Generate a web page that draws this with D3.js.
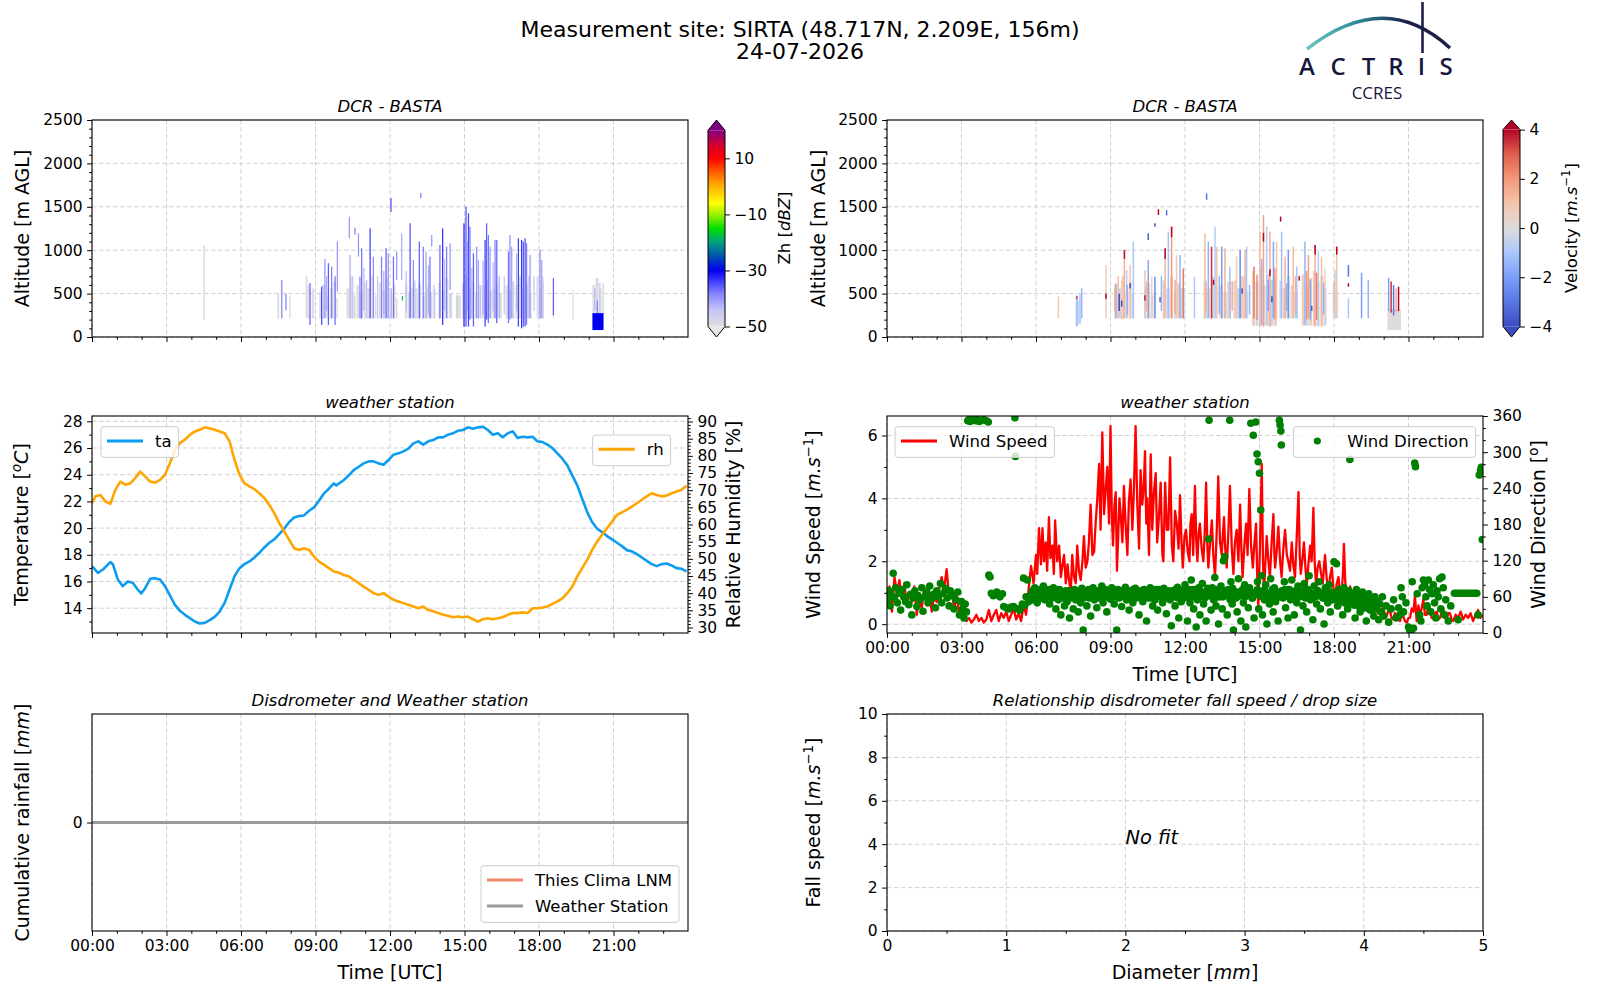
<!DOCTYPE html>
<meta charset="utf-8">
<script src="https://d3js.org/d3.v7.min.js"></script>
<style>
  body { margin: 0; background: #fff; font-family: "DejaVu Sans", sans-serif; }
  .axis text { font-family: "DejaVu Sans", sans-serif; font-size: 15.5px; fill: #000; }
  .axis line { stroke: #000; stroke-width: 1; }
  .grid line { stroke: #d0d0d0; stroke-width: 1; stroke-dasharray: 4.5,2.5; }
  .frame { fill: none; stroke: #000; stroke-width: 1.1; }
  .sub { font-size: 16.5px; font-style: italic; text-anchor: middle; }
  .lab { font-size: 19px; text-anchor: middle; }
  .leg text { font-size: 16.5px; }
</style>
<svg id="chart" width="1600" height="1000"></svg>
<script>
// ---------- data ----------
// radar reflectivity (Zh, dBZ): blocks [t0, t1, base, top, dBZ] and streaks [t, base, top, dBZ]
var zhBlocks = [
  [7.46,7.54,215,500,-50],[7.6,7.68,215,650,-50],[7.94,8.0,215,480,-50],
  [8.6,8.68,215,700,-50],[8.68,8.75,215,600,-49],[8.85,8.95,215,560,-50],
  [9.15,9.25,215,520,-50],[9.28,9.4,215,600,-48],[9.43,9.55,215,470,-50],[9.58,9.7,215,560,-49],[9.72,9.82,215,640,-50],[9.84,9.9,215,450,-50],
  [10.25,10.35,215,560,-50],[10.38,10.5,215,700,-49],[10.52,10.62,215,480,-50],[10.65,10.75,215,600,-50],[10.78,10.9,215,520,-48],
  [10.95,11.05,215,640,-50],[11.08,11.2,215,560,-50],[11.25,11.35,215,700,-49],[11.38,11.45,215,480,-50],
  [11.55,11.68,215,620,-50],[11.7,11.8,215,540,-48],[11.83,11.95,215,680,-50],[11.98,12.1,215,500,-50],[12.12,12.22,215,600,-49],[12.24,12.3,215,450,-50],
  [12.6,12.7,215,600,-50],[12.72,12.82,215,520,-49],[12.85,12.95,215,560,-50],
  [13.0,13.12,215,560,-50],[13.15,13.25,215,620,-48],[13.3,13.42,215,480,-50],[13.45,13.55,215,580,-50],[13.6,13.7,215,520,-49],[13.72,13.8,215,600,-50],
  [13.95,14.05,215,620,-50],[14.08,14.2,215,540,-49],[14.22,14.35,215,680,-50],[14.38,14.5,215,500,-48],
  [14.65,14.85,215,480,-50],
  [14.9,15.0,215,620,-49],[15.02,15.12,215,700,-50],[15.15,15.25,215,560,-48],[15.28,15.4,215,640,-50],[15.42,15.52,215,520,-50],[15.55,15.65,215,600,-49],
  [15.7,15.8,215,600,-50],[15.83,15.95,215,660,-48],[15.98,16.1,215,540,-50],
  [16.12,16.22,215,560,-50],[16.25,16.35,215,620,-49],[16.38,16.5,215,500,-50],
  [16.65,16.75,215,600,-50],[16.78,16.88,215,540,-48],[16.9,17.0,215,640,-50],
  [17.05,17.15,215,600,-50],[17.18,17.28,215,700,-49],[17.3,17.42,215,560,-50],[17.45,17.55,215,620,-48],[17.58,17.7,215,520,-50],
  [17.9,18.0,215,700,-50],[18.03,18.12,215,560,-49],[18.14,18.2,215,640,-50],
  [18.55,18.6,215,450,-50],[19.35,19.4,196,540,-50],
  [20.15,20.25,270,600,-50],[20.28,20.4,270,680,-49],[20.42,20.52,270,560,-50],[20.55,20.62,270,620,-50],
  [20.15,20.6,80,275,-30]
];
var zhStreaks = [
  [4.51, 196, 1060, -47], [7.64, 215, 657, -40], [7.81, 310, 500, -38], [8.78, 140, 620, -36],
  [9.25, 140, 580, -34], [9.38, 215, 900, -40], [9.52, 140, 850, -36], [9.65, 215, 810, -38],
  [9.79, 140, 700, -37], [9.88, 520, 1100, -40], [10.36, 1137, 1387, -40], [10.39, 215, 945, -42],
  [10.59, 1180, 1260, -38], [10.73, 926, 1195, -40], [10.79, 215, 695, -38], [10.86, 215, 1022, -37],
  [11.06, 215, 657, -44], [11.2, 215, 1252, -34], [11.33, 215, 926, -39], [11.66, 215, 926, -38],
  [11.84, 215, 1022, -36], [11.93, 215, 965, -40], [12.04, 1440, 1600, -35], [12.14, 215, 926, -37],
  [12.27, 657, 984, -40], [12.47, 657, 1195, -42], [12.5, 420, 470, -18], [12.81, 215, 1310, -35],
  [12.94, 215, 887, -39], [13.18, 215, 1099, -36], [13.24, 1600, 1660, -38], [13.34, 215, 1041, -38],
  [13.45, 215, 984, -41], [13.61, 215, 926, -37], [13.68, 1041, 1175, -40], [14.01, 215, 1060, -37],
  [14.12, 138, 1252, -33], [14.28, 215, 1041, -38], [14.42, 542, 1080, -40], [14.98, 120, 1310, -32],
  [15.06, 120, 1502, -35], [15.16, 120, 1425, -34], [15.22, 200, 1271, -37], [15.36, 120, 965, -36],
  [15.49, 215, 1041, -39], [15.56, 215, 887, -41], [15.83, 120, 1118, -34], [15.89, 200, 1310, -36],
  [15.96, 160, 1175, -37], [16.03, 215, 1041, -40], [16.23, 215, 1118, -38], [16.3, 160, 1118, -36],
  [16.77, 160, 984, -37], [16.83, 200, 1175, -39], [16.9, 215, 1041, -41], [17.17, 120, 1137, -34],
  [17.3, 100, 1118, -33], [17.37, 120, 1099, -36], [17.44, 120, 1137, -35], [17.5, 140, 1080, -38],
  [17.64, 215, 945, -40], [18.04, 215, 1003, -39], [18.11, 215, 887, -41], [18.58, 250, 680, -36],
  [9.3, 215, 600, -44], [10.5, 215, 700, -44], [11.5, 215, 700, -44], [12.05, 215, 560, -42],
  [13.0, 215, 650, -44], [13.8, 215, 560, -44], [14.7, 215, 480, -46], [15.3, 215, 800, -42],
  [15.65, 215, 600, -44], [16.4, 215, 700, -42], [16.95, 215, 640, -44], [17.6, 215, 700, -42],
  [18.15, 215, 700, -44], [20.25, 300, 560, -42], [20.45, 280, 620, -44], [20.35, 275, 420, -38],
  [9.45, 300, 700, -42], [10.95, 300, 800, -43], [11.75, 260, 760, -42], [12.65, 300, 760, -43],
  [13.55, 260, 820, -42], [14.2, 300, 900, -43], [15.12, 300, 1100, -41], [15.75, 260, 880, -42],
  [16.15, 300, 860, -43], [16.6, 260, 700, -44], [17.1, 300, 960, -42], [17.8, 300, 700, -44]
];
// Doppler velocity (m/s): blocks and streaks in the same layout
var velBlocks = [
  [7.6,7.7,130,450,-0.8],[7.7,7.8,150,420,-0.4],
  [9.15,9.28,215,620,0.5],[9.3,9.42,215,560,-0.4],[9.45,9.58,215,700,0.7],[9.6,9.72,215,520,0.2],[9.75,9.85,215,640,0.6],[9.86,9.95,215,500,-0.5],
  [10.35,10.45,215,560,-0.5],[10.48,10.6,215,620,0.4],[10.62,10.72,215,480,-0.3],[10.74,10.8,215,520,0.6],
  [11.1,11.22,215,650,0.7],[11.25,11.38,215,560,-0.4],[11.4,11.52,215,700,0.5],[11.55,11.65,215,520,0.2],[11.68,11.8,215,620,0.6],[11.82,12.0,215,560,-0.3],
  [12.75,12.88,215,650,-0.4],[12.9,13.02,215,560,0.5],[13.05,13.18,215,700,-0.2],[13.2,13.3,215,600,0.6],
  [13.4,13.52,215,600,0.7],[13.55,13.68,215,520,-0.3],[13.7,13.85,215,640,0.5],
  [13.95,14.08,215,650,0.4],[14.1,14.22,215,560,-0.5],[14.25,14.4,215,700,0.6],[14.42,14.55,215,520,0.2],
  [14.7,14.82,130,760,0.6],[14.84,14.96,130,640,-0.3],[14.98,15.1,130,800,0.7],[15.12,15.25,130,600,0.2],[15.28,15.4,130,720,0.5],[15.42,15.55,130,660,-0.4],[15.57,15.7,130,700,0.6],
  [15.8,15.92,215,650,-0.4],[15.95,16.08,215,560,0.5],[16.1,16.22,215,700,-0.2],[16.25,16.38,215,600,0.4],[16.4,16.55,215,520,-0.5],
  [16.7,16.82,130,720,0.7],[16.85,16.98,130,600,-0.3],[17.0,17.12,130,680,0.5],[17.15,17.28,130,760,0.6],[17.3,17.42,130,640,0.2],[17.45,17.58,130,700,0.5],[17.6,17.7,130,560,-0.4],
  [17.95,18.05,215,600,0.3],[18.07,18.15,215,520,-0.3],
  [20.15,20.7,80,320,0.05]
];
var velStreaks = [
  [6.9, 215, 465, 0.8], [7.64, 120, 480, -1.2], [7.64, 440, 470, 3.5], [7.77, 160, 500, -0.8],
  [7.84, 215, 560, -1.5], [8.82, 215, 830, 0.6], [8.82, 440, 500, 4], [9.22, 215, 600, -1.5],
  [9.31, 215, 700, 1.2], [9.45, 200, 650, 0.8], [9.45, 350, 420, -4], [9.56, 215, 1003, 1.5],
  [9.56, 900, 1003, 3.8], [9.65, 215, 770, -0.8], [9.79, 215, 830, 1.0], [9.79, 560, 620, -4],
  [9.92, 215, 1099, -1.0], [10.39, 215, 772, 1.0], [10.39, 420, 480, 4], [10.52, 215, 887, -1.8],
  [10.52, 1118, 1195, -3.5], [10.66, 215, 695, 0.5], [10.79, 215, 695, -2.5], [10.79, 1271, 1310, -4],
  [10.93, 1406, 1471, 4], [11.2, 215, 1022, 1.3], [11.2, 900, 1022, 4], [11.26, 1400, 1463, -3],
  [11.33, 215, 1214, -1.2], [11.46, 215, 1271, 2.0], [11.46, 1150, 1271, 4], [11.66, 215, 945, 0.8],
  [11.8, 215, 945, -1.5], [11.93, 215, 791, 2.5], [12.38, 215, 695, -1.0], [12.8, 215, 1195, 1.2],
  [12.87, 1580, 1655, -3], [12.94, 215, 1099, -1.5], [13.07, 215, 1041, 3.5], [13.21, 215, 1271, -0.8],
  [13.28, 215, 1041, 1.0], [13.48, 215, 1041, -2.0], [13.61, 215, 1022, 1.5], [13.81, 215, 811, -1.2],
  [14.08, 215, 926, 0.7], [14.22, 215, 1003, -2.5], [14.42, 215, 1003, 1.5], [14.48, 215, 1041, -1.0],
  [14.78, 215, 811, 2.5], [15.02, 120, 1214, 1.2], [15.09, 140, 900, -1.5], [15.16, 120, 1406, 1.8],
  [15.16, 1100, 1200, 4], [15.29, 140, 1271, -0.8], [15.42, 119, 1214, 1.5], [15.42, 700, 780, 4],
  [15.56, 215, 1099, -1.8], [15.69, 215, 1099, 1.0], [15.85, 1329, 1387, 4], [15.89, 215, 1214, -1.2],
  [16.03, 215, 926, 1.5], [16.16, 215, 1003, -2.2], [16.36, 215, 1041, 1.2], [16.5, 215, 811, -1.0],
  [16.83, 140, 1099, -1.5], [16.97, 215, 945, 1.8], [17.24, 119, 1060, 1.5], [17.24, 950, 1060, 4],
  [17.37, 119, 984, -0.8], [17.5, 119, 926, 1.2], [17.64, 215, 791, 0.5], [18.04, 215, 772, -0.7],
  [18.11, 215, 1041, 1.0], [18.11, 950, 1041, 4], [18.58, 215, 446, -1.0], [18.58, 695, 830, -3],
  [18.58, 580, 620, 4], [19.11, 215, 740, -2.0], [19.38, 215, 657, -1.5], [20.2, 300, 680, -2],
  [20.3, 280, 640, 3.5], [20.4, 250, 600, -3], [20.5, 280, 560, 1.5], [20.6, 300, 580, 4],
  [9.35, 300, 500, -4], [11.0, 400, 460, -4], [13.15, 600, 660, 4], [14.3, 500, 560, -4],
  [15.5, 400, 470, -4], [16.6, 650, 700, 4], [17.1, 300, 360, -4],
  [9.18, 300, 560, 1.6], [9.68, 260, 600, -1.6], [10.45, 300, 640, 1.4], [11.05, 300, 700, -1.4],
  [11.6, 260, 660, 1.6], [12.85, 300, 620, 1.4], [13.38, 260, 700, -1.5], [13.9, 300, 640, 1.6],
  [14.6, 260, 600, -1.4], [14.9, 200, 720, 2.2], [15.35, 300, 660, -2.0], [15.62, 200, 800, 2.0],
  [16.1, 300, 620, -1.6], [16.45, 260, 700, 1.5], [16.9, 200, 760, 2.0], [17.05, 200, 660, -1.8],
  [17.3, 200, 740, 2.4], [17.58, 260, 620, -1.5], [18.0, 300, 640, 1.2]
];

// weather station, temperature [h, degC] and relative humidity [h, %]
var taSeries = [
  [0,17.15],[0.24,16.65],[0.44,16.9],[0.74,17.45],[0.84,17.3],[1.04,16.15],[1.24,15.65],[1.44,16.0],
  [1.64,15.9],[1.84,15.4],[1.98,15.1],[2.14,15.5],[2.34,16.2],[2.54,16.25],[2.74,16.15],[2.94,15.65],
  [3.14,14.95],[3.34,14.25],[3.54,13.8],[3.74,13.5],[3.94,13.25],[4.14,13.0],[4.34,12.85],[4.54,12.9],
  [4.74,13.1],[4.94,13.35],[5.14,13.75],[5.34,14.4],[5.54,15.4],[5.74,16.4],[5.94,17.0],[6.14,17.3],
  [6.34,17.5],[6.54,17.8],[6.74,18.15],[6.94,18.55],[7.14,18.9],[7.34,19.15],[7.54,19.55],[7.74,19.95],
  [7.94,20.45],[8.14,20.8],[8.34,20.9],[8.54,20.95],[8.74,21.3],[8.94,21.55],[9.14,22.05],[9.34,22.6],
  [9.54,22.95],[9.74,23.35],[9.84,23.2],[10.14,23.6],[10.34,23.95],[10.54,24.35],[10.74,24.6],[10.94,24.85],
  [11.14,25.0],[11.34,25.0],[11.54,24.85],[11.74,24.75],[11.94,25.1],[12.14,25.5],[12.34,25.6],[12.54,25.75],
  [12.74,25.95],[12.94,26.35],[13.14,26.5],[13.34,26.25],[13.54,26.5],[13.74,26.6],[13.94,26.8],[14.14,26.8],
  [14.34,27.0],[14.54,27.1],[14.74,27.3],[14.94,27.35],[15.14,27.55],[15.34,27.45],[15.54,27.55],[15.74,27.6],
  [15.94,27.35],[16.14,27.0],[16.34,27.1],[16.54,26.8],[16.74,27.1],[16.94,27.25],[17.14,26.75],[17.34,26.85],
  [17.54,26.8],[17.74,26.85],[17.94,26.5],[18.14,26.45],[18.34,26.25],[18.54,26.0],[18.74,25.6],[18.94,25.2],
  [19.14,24.7],[19.34,23.95],[19.54,23.2],[19.74,22.2],[19.94,21.2],[20.14,20.45],[20.34,19.95],[20.54,19.7],
  [20.74,19.4],[20.94,19.15],[21.14,18.9],[21.34,18.65],[21.54,18.35],[21.74,18.25],[21.94,18.05],[22.14,17.8],
  [22.34,17.55],[22.54,17.3],[22.74,17.15],[22.94,17.3],[23.14,17.35],[23.34,17.2],[23.54,17.0],[23.74,16.95],
  [23.94,16.75]
];
var rhSeries = [
  [0,66.2],[0.14,68.2],[0.34,68.6],[0.54,66.7],[0.74,66.0],[0.94,70.1],[1.14,72.5],[1.34,71.6],[1.54,72.0],
  [1.74,73.5],[1.94,75.4],[2.14,74.0],[2.34,72.5],[2.54,72.2],[2.74,73.0],[2.94,74.5],[3.14,77.9],[3.34,81.7],
  [3.54,83.7],[3.74,84.7],[3.94,86.1],[4.14,87.1],[4.34,87.6],[4.54,88.3],[4.74,88.0],[4.94,87.6],[5.14,87.1],
  [5.34,86.6],[5.54,84.2],[5.74,78.8],[5.94,74.5],[6.14,72.0],[6.34,71.1],[6.54,70.3],[6.74,69.1],[6.94,67.7],
  [7.14,65.7],[7.34,63.3],[7.54,60.4],[7.74,58.0],[7.94,55.5],[8.14,53.1],[8.34,52.6],[8.54,53.1],[8.74,52.6],
  [8.94,50.7],[9.14,49.2],[9.34,48.3],[9.54,47.3],[9.74,46.3],[9.94,46.0],[10.14,45.3],[10.34,44.9],[10.54,43.9],
  [10.74,42.9],[10.94,41.9],[11.14,41.0],[11.34,40.0],[11.54,39.5],[11.74,40.0],[11.94,39.0],[12.14,38.1],
  [12.34,37.6],[12.54,37.1],[12.74,36.6],[12.94,36.1],[13.14,35.6],[13.34,36.1],[13.54,35.1],[13.74,34.7],
  [13.94,34.2],[14.14,33.7],[14.34,33.4],[14.54,33.0],[14.74,33.2],[14.94,33.0],[15.14,33.2],[15.34,32.4],
  [15.54,31.7],[15.74,32.4],[15.94,32.7],[16.14,32.4],[16.34,32.7],[16.54,33.0],[16.74,33.7],[16.94,34.2],
  [17.14,34.2],[17.34,34.4],[17.54,34.2],[17.74,35.6],[17.94,35.6],[18.14,35.8],[18.34,36.1],[18.54,36.9],
  [18.74,37.6],[18.94,38.5],[19.14,40.0],[19.34,41.9],[19.54,44.9],[19.74,47.3],[19.94,49.7],[20.14,52.6],
  [20.34,55.0],[20.54,57.0],[20.74,58.9],[20.94,60.8],[21.14,62.8],[21.34,63.5],[21.54,64.3],[21.74,65.2],
  [21.94,66.2],[22.14,67.2],[22.34,68.2],[22.54,69.1],[22.74,68.6],[22.94,68.2],[23.14,68.4],[23.34,69.1],
  [23.54,69.6],[23.74,70.1],[23.94,71.3]
];

// wind speed [h, m/s]
var wsSeries = [
  [0,0.8],[0.1,1.2],[0.2,0.4],[0.3,1.5],[0.4,1.0],[0.5,1.4],[0.6,0.8],[0.7,1.3],[0.8,0.6],[0.9,1.0],
  [1.0,0.7],[1.1,1.2],[1.2,0.3],[1.3,0.9],[1.4,0.5],[1.5,1.2],[1.6,0.6],[1.7,1.0],[1.8,0.4],[1.9,0.9],
  [2.0,0.7],[2.1,1.1],[2.2,1.5],[2.3,1.1],[2.4,1.75],[2.5,0.9],[2.6,1.1],[2.7,0.5],[2.8,0.9],[2.9,0.4],
  [3.0,0.6],[3.1,0.2],[3.2,0.1],[3.3,0.2],[3.4,0.05],[3.5,0.15],[3.6,0.3],[3.7,0.1],[3.8,0.2],[3.9,0.05],
  [4.0,0.15],[4.1,0.45],[4.2,0.1],[4.3,0.3],[4.4,0.45],[4.5,0.1],[4.6,0.35],[4.7,0.2],[4.8,0.4],[4.9,0.1],
  [5.0,0.3],[5.1,0.5],[5.2,0.15],[5.3,0.35],[5.4,0.1],[5.5,0.6],[5.6,0.3],[5.7,1.1],[5.8,1.85],[5.9,1.3],
  [6.0,2.2],[6.05,1.6],[6.12,3.05],[6.2,1.9],[6.26,3.05],[6.32,2.0],[6.39,2.6],[6.45,1.7],[6.52,3.4],[6.58,2.1],
  [6.66,2.5],[6.72,1.6],[6.77,3.3],[6.85,2.0],[6.93,2.5],[7.0,1.5],[7.07,1.9],[7.13,2.2],[7.2,1.3],[7.27,1.9],
  [7.33,1.4],[7.4,1.0],[7.46,2.2],[7.53,1.5],[7.6,1.3],[7.66,2.5],[7.73,1.7],[7.8,1.4],[7.87,2.0],[7.93,2.8],
  [8.0,1.8],[8.07,2.0],[8.13,2.6],[8.2,3.8],[8.27,2.2],[8.34,2.3],[8.4,3.2],[8.47,4.0],[8.54,5.1],[8.6,3.0],
  [8.67,6.1],[8.74,3.5],[8.8,4.2],[8.87,5.0],[8.94,3.2],[9.0,6.3],[9.05,3.6],[9.1,2.5],[9.16,3.8],[9.21,4.2],
  [9.26,1.7],[9.31,2.8],[9.36,4.0],[9.41,3.5],[9.48,2.6],[9.54,4.4],[9.6,3.3],[9.68,2.2],[9.74,3.9],[9.81,4.6],
  [9.88,3.0],[9.94,4.2],[10.01,6.3],[10.08,3.8],[10.15,2.4],[10.21,4.9],[10.28,3.8],[10.34,4.4],[10.39,5.5],[10.44,3.2],
  [10.48,4.0],[10.55,2.2],[10.62,5.4],[10.68,3.0],[10.75,4.2],[10.82,4.8],[10.88,2.6],[10.95,3.4],[11.02,4.5],[11.09,2.2],
  [11.13,2.0],[11.2,4.5],[11.27,3.0],[11.33,3.0],[11.4,5.3],[11.47,2.5],[11.53,2.0],[11.6,3.6],[11.67,3.2],[11.74,2.4],
  [11.8,4.1],[11.86,2.6],[11.91,1.8],[11.98,2.8],[12.04,3.0],[12.11,2.3],[12.18,2.0],[12.22,3.2],[12.27,3.5],[12.33,2.2],
  [12.4,4.4],[12.45,2.7],[12.5,2.0],[12.55,2.9],[12.6,3.2],[12.67,2.4],[12.74,2.0],[12.8,3.0],[12.85,4.5],[12.9,2.5],
  [12.94,1.8],[13.01,2.6],[13.08,3.3],[13.14,2.2],[13.21,1.5],[13.28,3.0],[13.34,4.7],[13.41,2.6],[13.48,2.2],[13.52,2.8],
  [13.57,3.4],[13.62,2.4],[13.68,1.8],[13.75,3.0],[13.81,4.4],[13.88,2.5],[13.95,1.6],[14.01,2.6],[14.08,3.0],[14.15,2.0],
  [14.22,3.8],[14.27,2.4],[14.32,1.5],[14.39,2.5],[14.46,3.2],[14.52,2.2],[14.59,4.3],[14.66,2.5],[14.73,1.8],[14.8,2.6],
  [14.86,3.2],[14.91,1.5],[14.95,0.5],[15.02,2.5],[15.09,5.1],[15.14,2.0],[15.18,1.0],[15.24,2.0],[15.29,2.8],[15.36,2.0],
  [15.42,1.5],[15.49,2.6],[15.56,3.5],[15.6,2.2],[15.63,1.8],[15.7,2.4],[15.76,3.1],[15.83,2.0],[15.89,1.5],[15.96,2.4],
  [16.03,3.0],[16.1,2.2],[16.16,2.0],[16.23,1.7],[16.3,2.6],[16.36,1.9],[16.43,1.5],[16.5,2.8],[16.57,4.2],[16.62,2.2],
  [16.66,1.6],[16.72,2.0],[16.79,2.6],[16.85,1.8],[16.9,1.2],[16.97,1.9],[17.04,2.5],[17.1,2.0],[17.17,3.7],[17.22,2.0],
  [17.28,1.2],[17.34,1.8],[17.41,2.0],[17.48,1.6],[17.55,1.3],[17.6,1.9],[17.64,2.2],[17.7,1.5],[17.77,1.0],[17.84,1.5],
  [17.91,1.8],[17.97,1.2],[18.04,0.8],[18.11,1.3],[18.18,1.5],[18.24,1.0],[18.31,1.0],[18.36,1.6],[18.4,2.55],[18.45,1.4],
  [18.51,0.8],[18.58,1.0],[18.65,1.2],[18.72,0.9],[18.78,0.7],[18.85,1.0],[18.91,1.0],[18.98,0.7],[19.05,0.6],[19.12,0.9],
  [19.18,0.8],[19.25,0.6],[19.32,0.5],[19.38,0.8],[19.45,0.7],[19.52,0.4],[19.59,0.3],[19.65,0.55],[19.72,0.6],[19.78,0.35],
  [19.85,0.3],[19.92,0.5],[19.99,0.5],[20.05,0.3],[20.12,0.25],[20.19,0.45],[20.26,0.4],[20.32,0.2],[20.39,0.15],[20.45,0.35],
  [20.52,0.3],[20.59,0.15],[20.66,0.1],[20.72,0.3],[20.79,0.25],[20.86,0.1],[20.93,0.05],[21.0,0.2],[21.06,0.2],[21.13,0.5],
  [21.2,0.4],[21.26,0.9],[21.33,0.1],[21.4,0.6],[21.46,0.3],[21.53,0.5],[21.6,0.8],[21.66,0.3],[21.73,0.3],[21.8,0.6],
  [21.87,0.5],[21.93,0.2],[22.0,0.2],[22.07,0.35],[22.14,0.4],[22.2,0.15],[22.27,0.2],[22.34,0.4],[22.4,0.5],[22.47,0.2],
  [22.54,0.15],[22.6,0.35],[22.67,0.35],[22.74,0.15],[22.8,0.1],[22.9,0.3],[23.0,0.2],[23.1,0.4],[23.2,0.15],[23.3,0.3],
  [23.4,0.2],[23.5,0.35],[23.6,0.1],[23.7,0.3],[23.8,0.45],[23.9,0.2],[24.0,0.3]
];
// wind direction [h, deg]
var wdPoints = [
  [0.02,55],[0.08,70],[0.12,45],[0.18,62],[0.25,99],[0.3,58],[0.35,75],[0.42,50],[0.48,66],[0.55,38],
  [0.6,72],[0.68,60],[0.75,52],[0.8,80],[0.88,47],[0.95,64],[1.0,30],[1.05,58],[1.12,70],[1.2,44],
  [1.25,62],[1.32,55],[1.4,75],[1.45,36],[1.52,60],[1.6,68],[1.65,50],[1.72,78],[1.8,57],[1.88,64],
  [1.95,42],[2.0,70],[2.08,60],[2.15,82],[2.2,50],[2.28,66],[2.35,74],[2.42,58],[2.5,45],[2.55,70],
  [2.62,62],[2.7,40],[2.78,55],[2.85,68],[2.92,30],[3.0,52],[3.05,40],[3.1,25],[3.15,48],[3.2,35],
  [3.25,352],[3.3,354],[3.35,351],[3.42,353],[3.5,355],[3.58,352],[3.65,354],[3.72,351],[3.8,353],[3.9,354],
  [4.0,352],[4.08,350],[4.1,96],[4.15,93],[4.2,66],[4.28,62],[4.35,64],[4.42,68],[4.5,63],[4.55,60],
  [4.65,65],[4.7,44],[4.8,42],[4.9,40],[5.0,43],[5.1,44],[5.15,357],[5.17,293],[5.25,40],[5.35,38],
  [5.45,48],[5.5,91],[5.55,46],[5.6,60],[5.65,88],[5.7,52],
  [5.8,62],[5.85,70],[5.9,55],[5.95,75],[6.0,60],[6.05,50],[6.1,68],[6.15,72],[6.2,58],[6.25,64],
  [6.3,78],[6.35,55],[6.4,66],[6.45,60],[6.5,72],[6.55,48],[6.6,65],[6.65,58],[6.7,75],[6.75,62],
  [6.8,40],[6.85,68],[6.9,55],[6.95,72],[7.0,30],[7.05,60],[7.1,65],[7.15,45],[7.2,70],[7.25,52],
  [7.3,62],[7.35,25],[7.4,58],[7.45,68],[7.5,40],[7.55,72],[7.6,55],[7.65,60],[7.7,35],[7.75,66],
  [7.8,50],[7.85,74],[7.9,5],[7.95,60],[8.0,68],[8.05,45],[8.1,70],[8.15,58],[8.2,28],[8.25,64],
  [8.3,75],[8.35,55],[8.4,62],[8.45,42],[8.5,70],[8.55,58],[8.6,66],[8.65,78],[8.7,50],[8.75,63],
  [8.8,72],[8.85,35],[8.9,60],[8.95,68],[9.0,56],[9.05,75],[9.1,62],[9.15,48],[9.2,66],[9.25,5],
  [9.3,72],[9.35,58],[9.4,64],[9.45,44],[9.5,70],[9.55,60],[9.6,76],[9.65,55],[9.7,65],[9.75,38],
  [9.8,70],[9.85,62],[9.9,50],[9.95,68],[10.0,74],[10.05,58],[10.1,64],[10.15,30],[10.2,70],[10.25,60],
  [10.3,52],[10.35,72],[10.4,65],[10.45,20],[10.5,58],[10.55,68],[10.6,75],[10.65,62],[10.7,45],[10.75,70],
  [10.8,55],[10.85,64],[10.9,38],[10.95,72],[11.0,60],[11.05,66],[11.1,50],[11.15,74],[11.2,58],[11.25,32],
  [11.3,68],[11.35,62],[11.4,55],[11.45,12],[11.5,70],[11.55,60],[11.6,45],[11.65,66],[11.7,76],[11.75,25],
  [11.8,62],[11.85,52],[11.9,70],[11.95,58],[12.0,80],
  [12.05,60],[12.1,20],[12.15,72],[12.2,50],[12.25,88],[12.3,62],[12.35,40],[12.4,68],[12.45,10],[12.5,55],
  [12.55,75],[12.6,30],[12.65,64],[12.7,82],[12.75,48],[12.8,58],[12.85,20],[12.9,70],[12.95,156],[12.97,353],
  [13.0,62],[13.05,38],[13.1,75],[13.15,55],[13.2,92],[13.25,45],[13.3,66],[13.35,15],[13.4,60],[13.45,78],
  [13.5,40],[13.55,120],[13.6,127],[13.65,62],[13.7,30],[13.75,72],[13.8,353],[13.82,55],[13.85,85],[13.9,48],
  [13.95,5],[14.0,66],[14.05,58],[14.1,35],[14.15,90],[14.2,62],[14.25,20],[14.3,70],[14.35,50],[14.4,80],
  [14.45,10],[14.5,64],[14.55,42],[14.6,75],[14.65,348],[14.7,58],[14.75,328],[14.78,25],[14.85,350],[14.88,68],
  [14.9,297],[14.92,85],[14.95,284],[14.97,40],[15.0,265],[15.02,62],[15.05,204],[15.08,95],[15.12,30],[15.15,70],
  [15.2,55],[15.25,80],[15.3,15],[15.35,65],[15.4,48],[15.45,90],[15.5,60],[15.55,35],[15.6,75],[15.65,52],
  [15.7,66],[15.75,20],[15.8,353],[15.83,345],[15.86,335],[15.88,312],[15.9,70],[15.95,58],[16.0,85],[16.05,42],
  [16.1,65],[16.15,25],[16.2,72],[16.25,55],[16.3,88],[16.35,60],[16.4,30],[16.45,70],[16.5,50],[16.55,78],
  [16.6,62],[16.65,5],[16.7,68],[16.75,45],[16.8,82],[16.85,58],[16.9,35],[16.95,72],[17.0,95],[17.05,55],
  [17.1,65],[17.15,22],[17.2,78],[17.25,60],[17.3,48],[17.35,70],[17.4,85],[17.45,40],[17.5,66],[17.55,58],
  [17.6,15],[17.65,75],[17.7,62],[17.75,50],[17.8,80],[17.85,35],[17.9,68],[17.95,55],[18.0,118],[18.05,62],
  [18.1,115],[18.15,45],[18.2,72],[18.25,58],
  [18.3,66],[18.35,30],[18.4,75],[18.45,55],[18.5,62],[18.55,40],[18.6,70],[18.64,288],[18.7,50],[18.75,65],
  [18.8,58],[18.85,25],[18.9,72],[18.95,48],[19.0,62],[19.05,35],[19.1,55],[19.15,68],[19.2,42],[19.25,58],
  [19.3,20],[19.35,50],[19.4,65],[19.45,38],[19.5,55],[19.55,45],[19.6,28],[19.65,60],[19.7,40],[19.75,52],
  [19.8,22],[19.85,48],[19.9,35],[19.95,60],[20.0,28],[20.1,45],[20.2,18],[20.3,40],[20.4,55],[20.5,25],
  [20.6,42],[20.65,30],[20.7,75],[20.75,60],[20.8,35],[20.9,50],[21.0,10],[21.05,5],[21.1,2],[21.15,85],
  [21.2,8],[21.25,282],[21.28,276],[21.35,65],[21.45,30],[21.5,20],[21.55,75],[21.6,88],[21.65,80],[21.7,60],
  [21.75,45],[21.8,88],[21.85,72],[21.9,35],[21.95,65],[22.0,80],[22.05,50],[22.1,25],[22.15,70],[22.2,60],
  [22.25,90],[22.3,40],[22.35,93],[22.4,75],[22.45,30],[22.5,55],[22.6,20],[22.7,45],[22.85,66],[22.95,66],
  [23.0,22],[23.05,66],[23.15,66],[23.25,66],[23.35,66],[23.45,66],[23.55,66],[23.65,66],[23.75,66],[23.8,30],
  [23.85,262],[23.9,270],[23.93,275],[23.97,155],[24.0,265]
];
// extra wind direction readings inside the dense daytime band
var wdBand = [
  [6.02,66],[6.12,62],[6.22,70],[6.32,58],[6.42,64],[6.52,68],[6.62,60],[6.72,66],[6.82,72],[6.92,62],
  [7.02,68],[7.12,58],[7.22,64],[7.32,70],[7.42,62],[7.52,66],[7.62,60],[7.72,70],[7.82,64],[7.92,58],
  [8.02,66],[8.12,72],[8.22,62],[8.32,68],[8.42,60],[8.52,64],[8.62,70],[8.72,58],[8.82,66],[8.92,62],
  [9.02,68],[9.12,72],[9.22,60],[9.32,66],[9.42,62],[9.52,70],[9.62,64],[9.72,58],[9.82,66],[9.92,72],
  [10.02,62],[10.12,68],[10.22,60],[10.32,64],[10.42,70],[10.52,66],[10.62,58],[10.72,64],[10.82,72],[10.92,62],
  [11.02,68],[11.12,60],[11.22,66],[11.32,70],[11.42,62],[11.52,64],[11.62,72],[11.72,58],[11.82,66],[11.92,62],
  [12.02,70],[12.12,64],[12.22,58],[12.32,72],[12.42,66],[12.52,62],[12.62,70],[12.72,60],[12.82,66],[12.92,74],
  [13.02,62],[13.12,68],[13.22,58],[13.32,72],[13.42,64],[13.52,60],[13.62,70],[13.72,66],[13.82,62],[13.92,74],
  [14.02,58],[14.12,68],[14.22,62],[14.32,72],[14.42,60],[14.52,66],[14.62,70],[14.72,58],[14.82,64],[14.92,72],
  [15.02,66],[15.12,60],[15.22,70],[15.32,64],[15.42,58],[15.52,72],[15.62,62],[15.72,68],[15.82,60],[15.92,66],
  [16.02,72],[16.12,62],[16.22,68],[16.32,58],[16.42,64],[16.52,70],[16.62,60],[16.72,66],[16.82,72],[16.92,62],
  [17.02,68],[17.12,58],[17.22,64],[17.32,70],[17.42,62],[17.52,66],[17.62,58],[17.72,64],[17.82,60],[17.92,66],
  [18.02,56],[18.12,62],[18.22,52],[18.32,58],[18.42,50],[18.52,56],[18.62,48],[18.72,54],[18.82,46],[18.92,52],
  [19.02,44],[19.12,50],[19.22,42],[19.32,48],[19.42,40],[19.52,46]
];

// cumulative rainfall [mm]
var rainTimes = [0, 6, 12, 18, 24];
var rainThies = [0, 0, 0, 0, 0];
var rainStation = [0, 0, 0, 0, 0];

// tick values
var timeMajor = [0, 3, 6, 9, 12, 15, 18, 21];
var timeMinor = [1, 2, 4, 5, 7, 8, 10, 11, 13, 14, 16, 17, 19, 20, 22, 23];
var altTicks = [0, 500, 1000, 1500, 2000, 2500];
var tempTicks = [14, 16, 18, 20, 22, 24, 26, 28];
var rhTicks = [30, 35, 40, 45, 50, 55, 60, 65, 70, 75, 80, 85, 90];
var wsTicks = [0, 2, 4, 6];
var wdTicks = [0, 60, 120, 180, 240, 300, 360];
var zhCbTicks = [-50, -30, -10, 10];
var velCbTicks = [-4, -2, 0, 2, 4];
var diamTicks = [0, 1, 2, 3, 4, 5];
var fallTicks = [0, 2, 4, 6, 8, 10];

// colour maps
var zhColorStops = [[-50,"#dedede"],[-44,"#c4c4f8"],[-38,"#8080ff"],[-33,"#3030ff"],[-30,"#0000f0"],[-25,"#0050b0"],
  [-20,"#00a080"],[-15,"#00e000"],[-10,"#a0f000"],[-6,"#ffff00"],[0,"#ffb000"],[5,"#ff6000"],
  [10,"#ff0000"],[15,"#d00030"],[20,"#800080"]];
var velColorStops = [[-4,"#3b4cc0"],[-3,"#5977e3"],[-2,"#7b9ff9"],[-1,"#aac7fd"],[0,"#dddcdc"],
  [1,"#f5c4ac"],[2,"#f4987a"],[3,"#de604d"],[4,"#b40426"]];

// ---------- drawing ----------
var svg = d3.select("#chart");
var defs = svg.append("defs");

var P = {
  zh:   { x0: 92,  x1: 688,  y0: 120, y1: 337 },
  vel:  { x0: 887, x1: 1483, y0: 120, y1: 337 },
  met:  { x0: 92,  x1: 688,  y0: 416, y1: 633 },
  wind: { x0: 887, x1: 1483, y0: 416, y1: 633 },
  rain: { x0: 92,  x1: 688,  y0: 714, y1: 931 },
  fall: { x0: 887, x1: 1483, y0: 714, y1: 931 }
};

var minus = function (d) { return String(d).replace("-", "\u2212"); };
var hhmm = function (d) { return (d < 10 ? "0" : "") + d + ":00"; };

function clip(id, p) {
  defs.append("clipPath").attr("id", id).append("rect")
    .attr("x", p.x0).attr("y", p.y0).attr("width", p.x1 - p.x0).attr("height", p.y1 - p.y0);
  return "url(#" + id + ")";
}

function ticks(orient, scale, pos, major, minor, fmt) {
  var fn = { bottom: d3.axisBottom, left: d3.axisLeft, right: d3.axisRight }[orient];
  var tr = orient === "bottom" ? "translate(0," + pos + ")" : "translate(" + pos + ",0)";
  if (minor && minor.length) {
    svg.append("g").attr("class", "axis").attr("transform", tr)
      .call(fn(scale).tickValues(minor).tickSize(2.8).tickFormat(""))
      .call(function (a) { a.select(".domain").remove(); });
  }
  svg.append("g").attr("class", "axis").attr("transform", tr)
    .call(fn(scale).tickValues(major).tickSize(4.9).tickPadding(4.5).tickFormat(fmt === null ? "" : (fmt || minus)))
    .call(function (a) { a.select(".domain").remove(); });
}

function grid(p, xs, xt, ys, yt) {
  var g = svg.append("g").attr("class", "grid");
  g.selectAll(".gx").data(xt).join("line")
    .attr("x1", xs).attr("x2", xs).attr("y1", p.y0).attr("y2", p.y1);
  g.selectAll(".gy").data(yt).join("line")
    .attr("y1", ys).attr("y2", ys).attr("x1", p.x0).attr("x2", p.x1);
}

function frame(p) {
  svg.append("rect").attr("class", "frame")
    .attr("x", p.x0).attr("y", p.y0).attr("width", p.x1 - p.x0).attr("height", p.y1 - p.y0);
}

function subtitle(p, txt) {
  svg.append("text").attr("class", "sub").attr("x", (p.x0 + p.x1) / 2).attr("y", p.y0 - 8).text(txt);
}

// parts: [text, italic, superscript]
function label(x, y, parts, rotate, size) {
  var t = svg.append("text").attr("class", "lab")
    .attr("transform", "translate(" + x + "," + y + ")" + (rotate ? " rotate(-90)" : ""))
    .attr("dy", "0.35em");
  if (size) t.style("font-size", size + "px");
  var up = false;
  parts.forEach(function (q) {
    var s = t.append("tspan").text(q[0]);
    if (q[1]) s.style("font-style", "italic");
    if (q[2] && !up) { s.attr("dy", -7).style("font-size", "70%"); up = true; }
    else if (!q[2] && up) { s.attr("dy", 7); up = false; }
    else if (q[2]) s.style("font-size", "70%");
  });
}

function legend(x, y, items, alignRight) {
  var g = svg.append("g").attr("class", "leg");
  var box = g.append("rect").attr("rx", 3).attr("fill", "#fff").attr("fill-opacity", 0.8)
    .attr("stroke", "#cccccc").attr("stroke-width", 1);
  var maxW = 0;
  items.forEach(function (it, i) {
    var cy = 14.3 + i * 26;
    if (it.type === "dot") {
      g.append("circle").attr("cx", 6 + 18).attr("cy", cy).attr("r", 3.6).attr("fill", it.color);
    } else {
      g.append("line").attr("x1", 6).attr("x2", 42).attr("y1", cy).attr("y2", cy)
        .attr("stroke", it.color).attr("stroke-width", it.width || 3);
    }
    var t = g.append("text").attr("x", 54).attr("y", cy).attr("dy", "0.35em").text(it.label);
    maxW = Math.max(maxW, t.node().getComputedTextLength());
  });
  var W = 54 + maxW + 7, H = 30.7 + 26 * (items.length - 1);
  box.attr("width", W).attr("height", H);
  g.attr("transform", "translate(" + (alignRight ? x - W : x) + "," + y + ")");
}

function colorbar(id, x, w, scale, stops, cbTicks, over, under, yTop, yBot) {
  var vmin = stops[0][0], vmax = stops[stops.length - 1][0];
  var grad = defs.append("linearGradient").attr("id", id)
    .attr("x1", 0).attr("y1", 1).attr("x2", 0).attr("y2", 0);
  stops.forEach(function (s) {
    grad.append("stop").attr("offset", (s[0] - vmin) / (vmax - vmin)).attr("stop-color", s[1]);
  });
  var a = scale(vmax), b = scale(vmin);
  svg.append("rect").attr("x", x).attr("y", a).attr("width", w).attr("height", b - a).attr("fill", "url(#" + id + ")");
  svg.append("path").attr("d", "M" + x + "," + a + "L" + (x + w / 2) + "," + yTop + "L" + (x + w) + "," + a + "Z").attr("fill", over);
  svg.append("path").attr("d", "M" + x + "," + b + "L" + (x + w / 2) + "," + yBot + "L" + (x + w) + "," + b + "Z").attr("fill", under);
  svg.append("path").attr("fill", "none").attr("stroke", "#000").attr("stroke-width", 1)
    .attr("d", "M" + x + "," + b + "L" + x + "," + a + "L" + (x + w / 2) + "," + yTop + "L" + (x + w) + "," + a +
      "L" + (x + w) + "," + b + "L" + (x + w / 2) + "," + yBot + "Z");
  ticks("right", scale, x + w, cbTicks, [], minus);
}

// ---- scales ----
var xL = d3.scaleLinear().domain([0, 24]).range([P.zh.x0, P.zh.x1]);
var xR = d3.scaleLinear().domain([0, 24]).range([P.vel.x0, P.vel.x1]);
var alt = d3.scaleLinear().domain([0, 2500]).range([P.zh.y1, P.zh.y0]);
var temp = d3.scaleLinear().domain([12.14, 28.4]).range([P.met.y1, P.met.y0]);
var rh = d3.scaleLinear().domain([28.4, 91.6]).range([P.met.y1, P.met.y0]);
var ws = d3.scaleLinear().domain([-0.28, 6.62]).range([P.wind.y1, P.wind.y0]);
var wd = d3.scaleLinear().domain([0, 360]).range([P.wind.y1, P.wind.y0]);
var rain = d3.scaleLinear().domain([-0.055, 0.055]).range([P.rain.y1, P.rain.y0]);
var diam = d3.scaleLinear().domain([0, 5]).range([P.fall.x0, P.fall.x1]);
var fall = d3.scaleLinear().domain([0, 10]).range([P.fall.y1, P.fall.y0]);
var zhCol = d3.scaleLinear().domain(zhColorStops.map(function (d) { return d[0]; }))
  .range(zhColorStops.map(function (d) { return d[1]; })).clamp(true);
var velCol = d3.scaleLinear().domain(velColorStops.map(function (d) { return d[0]; }))
  .range(velColorStops.map(function (d) { return d[1]; })).clamp(true);
var zhCb = d3.scaleLinear().domain([-50, 20]).range([326.5, 130.3]);
var velCb = d3.scaleLinear().domain([-4, 4]).range([326.5, 129.6]);

// ---- title ----
svg.append("text").attr("x", 800).attr("y", 36.5).attr("text-anchor", "middle").style("font-size", "22px")
  .text("Measurement site: SIRTA (48.717N, 2.209E, 156m)");
svg.append("text").attr("x", 800).attr("y", 59).attr("text-anchor", "middle").style("font-size", "22px")
  .text("24-07-2026");

// ---- logo ----
var lg = defs.append("linearGradient").attr("id", "arcGrad").attr("x1", 0).attr("x2", 1).attr("y1", 0).attr("y2", 0);
lg.append("stop").attr("offset", 0).attr("stop-color", "#6cc7c0");
lg.append("stop").attr("offset", 0.35).attr("stop-color", "#2a8a9a");
lg.append("stop").attr("offset", 0.7).attr("stop-color", "#1b1f4a");
lg.append("stop").attr("offset", 1).attr("stop-color", "#1b1f4a");
svg.append("path").attr("d", "M1307,49 Q1385,-12 1450,48").attr("fill", "none")
  .attr("stroke", "url(#arcGrad)").attr("stroke-width", 3.5);
svg.append("line").attr("x1", 1422.5).attr("x2", 1422.5).attr("y1", 2).attr("y2", 53)
  .attr("stroke", "#1b1f4a").attr("stroke-width", 2.6);
[["A", 1307], ["C", 1338], ["T", 1368.5], ["R", 1396], ["I", 1421.3], ["S", 1446]].forEach(function (l) {
  svg.append("text").attr("x", l[1]).attr("y", 74.5).attr("text-anchor", "middle")
    .style("font-family", "'Open Sans', 'DejaVu Sans', sans-serif").style("font-size", "24px")
    .style("font-weight", 600).attr("fill", "#17173d").text(l[0]);
});
svg.append("text").attr("x", 1377).attr("y", 99).attr("text-anchor", "middle")
  .style("font-family", "'Open Sans', 'DejaVu Sans', sans-serif").style("font-size", "17px")
  .attr("fill", "#17173d").text("CCRES");

// ---- panel 1: reflectivity ----
grid(P.zh, xL, timeMajor, alt, altTicks);
var g1 = svg.append("g").attr("clip-path", clip("c1", P.zh));
g1.selectAll(".b").data(zhBlocks).join("rect")
  .attr("x", function (d) { return xL(d[0]); }).attr("width", function (d) { return xL(d[1]) - xL(d[0]); })
  .attr("y", function (d) { return alt(d[3]); }).attr("height", function (d) { return alt(d[2]) - alt(d[3]); })
  .attr("fill", function (d) { return zhCol(d[4]); });
g1.selectAll(".s").data(zhStreaks).join("rect")
  .attr("x", function (d) { return xL(d[0] - 0.025); }).attr("width", xL(0.05) - xL(0))
  .attr("y", function (d) { return alt(d[2]); }).attr("height", function (d) { return alt(d[1]) - alt(d[2]); })
  .attr("fill", function (d) { return zhCol(d[3]); });
frame(P.zh);
ticks("left", alt, P.zh.x0, altTicks, d3.range(100, 2500, 100).filter(function (v) { return v % 500; }));
ticks("bottom", xL, P.zh.y1, timeMajor, timeMinor, null);
subtitle(P.zh, "DCR - BASTA");
label(22.5, (P.zh.y0 + P.zh.y1) / 2, [["Altitude [m AGL]"]], true);
colorbar("zhGrad", 708, 17, zhCb, zhColorStops, zhCbTicks, "#800080", "#e6e6e6", 120, 337);
label(784, 228, [["Zh ["], ["dBZ", true], ["]"]], true, 16.5);

// ---- panel 2: velocity ----
grid(P.vel, xR, timeMajor, alt, altTicks);
var g2 = svg.append("g").attr("clip-path", clip("c2", P.vel));
g2.selectAll(".b").data(velBlocks).join("rect")
  .attr("x", function (d) { return xR(d[0]); }).attr("width", function (d) { return xR(d[1]) - xR(d[0]); })
  .attr("y", function (d) { return alt(d[3]); }).attr("height", function (d) { return alt(d[2]) - alt(d[3]); })
  .attr("fill", function (d) { return velCol(d[4]); });
g2.selectAll(".s").data(velStreaks).join("rect")
  .attr("x", function (d) { return xR(d[0] - 0.03); }).attr("width", xR(0.06) - xR(0))
  .attr("y", function (d) { return alt(d[2]); }).attr("height", function (d) { return alt(d[1]) - alt(d[2]); })
  .attr("fill", function (d) { return velCol(d[3]); });
frame(P.vel);
ticks("left", alt, P.vel.x0, altTicks, d3.range(100, 2500, 100).filter(function (v) { return v % 500; }));
ticks("bottom", xR, P.vel.y1, timeMajor, timeMinor, null);
subtitle(P.vel, "DCR - BASTA");
label(818, (P.vel.y0 + P.vel.y1) / 2, [["Altitude [m AGL]"]], true);
colorbar("velGrad", 1503, 17, velCb, velColorStops, velCbTicks, "#b40426", "#3b4cc0", 120, 337);
label(1571, 228, [["Velocity ["], ["m.s", true], ["\u22121", false, true], ["]"]], true, 16.5);

// ---- panel 3: temperature / humidity ----
grid(P.met, xL, timeMajor, temp, tempTicks);
var g3 = svg.append("g").attr("clip-path", clip("c3", P.met));
g3.append("path").datum(taSeries).attr("fill", "none").attr("stroke", "#0c9cf0").attr("stroke-width", 2.6)
  .attr("stroke-linejoin", "round")
  .attr("d", d3.line().x(function (d) { return xL(d[0]); }).y(function (d) { return temp(d[1]); }));
g3.append("path").datum(rhSeries).attr("fill", "none").attr("stroke", "#ffa500").attr("stroke-width", 2.6)
  .attr("stroke-linejoin", "round")
  .attr("d", d3.line().x(function (d) { return xL(d[0]); }).y(function (d) { return rh(d[1]); }));
frame(P.met);
ticks("left", temp, P.met.x0, tempTicks, [13, 15, 17, 19, 21, 23, 25, 27]);
ticks("right", rh, P.met.x1, rhTicks, d3.range(29, 92).filter(function (v) { return v % 5; }));
ticks("bottom", xL, P.met.y1, timeMajor, timeMinor, null);
subtitle(P.met, "weather station");
label(21, (P.met.y0 + P.met.y1) / 2, [["Temperature ["], ["o", true, true], ["C", true], ["]"]], true);
label(733, (P.met.y0 + P.met.y1) / 2, [["Relative Humidity [%]"]], true);
legend(101, 426.7, [{ label: "ta", color: "#0c9cf0" }], false);
legend(670.6, 435, [{ label: "rh", color: "#ffa500" }], true);

// ---- panel 4: wind ----
grid(P.wind, xR, timeMajor, ws, wsTicks);
var g4 = svg.append("g").attr("clip-path", clip("c4", P.wind));
g4.append("path").datum(wsSeries).attr("fill", "none").attr("stroke", "#ff0000").attr("stroke-width", 2.3)
  .attr("stroke-linejoin", "round")
  .attr("d", d3.line().x(function (d) { return xR(d[0]); }).y(function (d) { return ws(d[1]); }));
g4.selectAll("circle").data(wdPoints.concat(wdBand)).join("circle")
  .attr("cx", function (d) { return xR(d[0]); }).attr("cy", function (d) { return wd(d[1]); })
  .attr("r", 3.8).attr("fill", "#008000");
frame(P.wind);
ticks("left", ws, P.wind.x0, wsTicks, [1, 3, 5]);
ticks("right", wd, P.wind.x1, wdTicks, d3.range(20, 360, 20).filter(function (v) { return v % 60; }));
ticks("bottom", xR, P.wind.y1, timeMajor, timeMinor, hhmm);
subtitle(P.wind, "weather station");
label(813, (P.wind.y0 + P.wind.y1) / 2, [["Wind Speed ["], ["m.s", true], ["\u22121", false, true], ["]"]], true);
label(1538, (P.wind.y0 + P.wind.y1) / 2, [["Wind Direction ["], ["o", false, true], ["]"]], true);
label((P.wind.x0 + P.wind.x1) / 2, P.wind.y1 + 41.5, [["Time [UTC]"]], false);
legend(895, 426.7, [{ label: "Wind Speed", color: "#ff0000" }], false);
legend(1475.6, 426.7, [{ label: "Wind Direction", color: "#008000", type: "dot" }], true);

// ---- panel 5: rainfall ----
grid(P.rain, xL, timeMajor, rain, []);
var g5 = svg.append("g").attr("clip-path", clip("c5", P.rain));
var rainLine = function (vals) {
  return d3.line().x(function (d, i) { return xL(rainTimes[i]); }).y(function (d) { return rain(d); })(vals);
};
g5.append("path").attr("d", rainLine(rainThies)).attr("fill", "none").attr("stroke", "#f08a68").attr("stroke-width", 3);
g5.append("path").attr("d", rainLine(rainStation)).attr("fill", "none").attr("stroke", "#999999").attr("stroke-width", 3);
frame(P.rain);
ticks("left", rain, P.rain.x0, [0], []);
ticks("bottom", xL, P.rain.y1, timeMajor, timeMinor, hhmm);
subtitle(P.rain, "Disdrometer and Weather station");
label(22, (P.rain.y0 + P.rain.y1) / 2, [["Cumulative rainfall ["], ["mm", true], ["]"]], true);
label((P.rain.x0 + P.rain.x1) / 2, P.rain.y1 + 41.5, [["Time [UTC]"]], false);
legend(679, 865.7, [{ label: "Thies Clima LNM", color: "#f08a68" }, { label: "Weather Station", color: "#999999" }], true);

// ---- panel 6: fall speed ----
grid(P.fall, diam, diamTicks, fall, fallTicks);
frame(P.fall);
ticks("left", fall, P.fall.x0, fallTicks, [1, 3, 5, 7, 9]);
ticks("bottom", diam, P.fall.y1, diamTicks, [0.5, 1.5, 2.5, 3.5, 4.5]);
subtitle(P.fall, "Relationship disdrometer fall speed / drop size");
svg.append("text").attr("x", diam(2)).attr("y", fall(4)).style("font-size", "19.4px").style("font-style", "italic")
  .text("No fit");
label(813, (P.fall.y0 + P.fall.y1) / 2, [["Fall speed ["], ["m.s", true], ["\u22121", false, true], ["]"]], true);
label((P.fall.x0 + P.fall.x1) / 2, P.fall.y1 + 41.5, [["Diameter ["], ["mm", true], ["]"]], false);
</script>
